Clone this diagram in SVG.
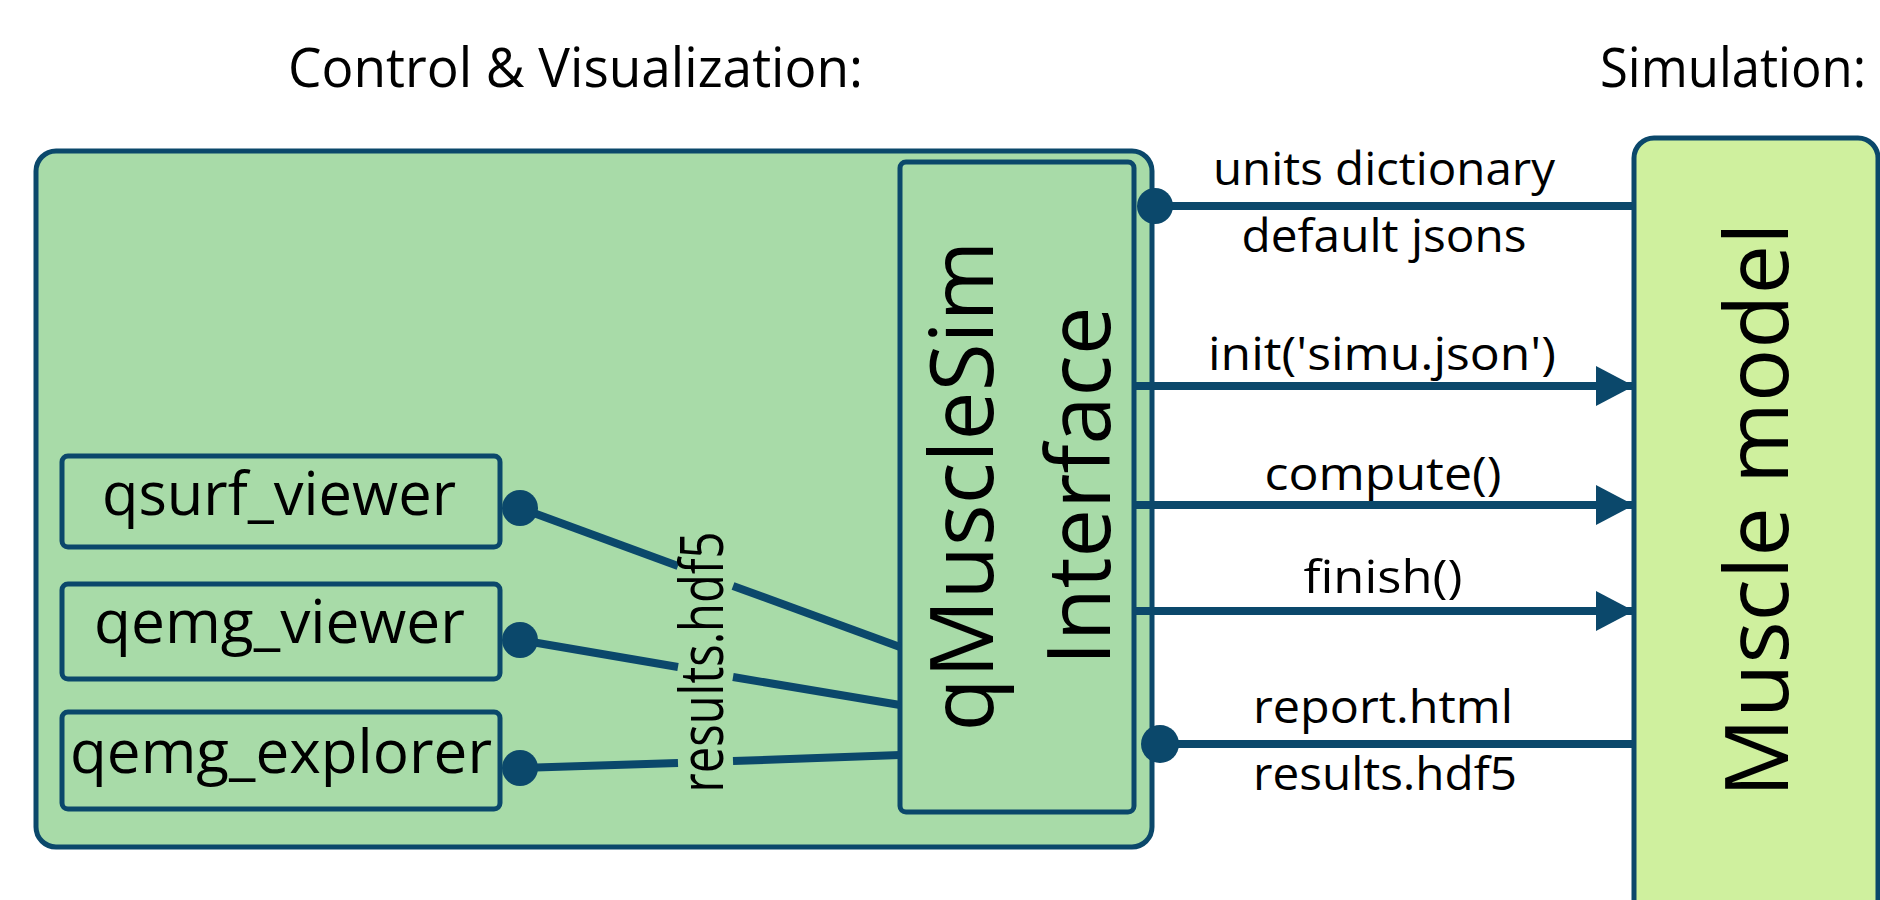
<svg xmlns="http://www.w3.org/2000/svg" width="1880" height="900" viewBox="0 0 1880 900">
  <style>
    .title { font-family: "Open Sans", "Noto Sans", "Liberation Sans", sans-serif; font-size: 54px; fill: #000; }
    .lbl { font-family: "Open Sans", "Noto Sans", "Liberation Sans", sans-serif; font-size: 46px; fill: #000; text-anchor: middle; }
    .app { font-family: "Open Sans", "Noto Sans", "Liberation Sans", sans-serif; font-size: 60px; fill: #000; }
    .big { font-family: "Open Sans", "Noto Sans", "Liberation Sans", sans-serif; font-size: 88px; fill: #000; text-anchor: middle; }
    .box { stroke: #0b486b; stroke-width: 5; }
    .wire { stroke: #0b486b; stroke-width: 8; fill: none; }
    .dot { fill: #0b486b; }
  </style>
  <defs>
    <marker id="arrow" markerUnits="userSpaceOnUse" viewBox="0 0 38 40" refX="38" refY="20" markerWidth="38" markerHeight="40" orient="auto">
      <path d="M0,0 L38,20 L0,40 Z" fill="#0b486b"/>
    </marker>
  </defs>

  <rect width="1880" height="900" fill="#ffffff"/>

  <!-- section headings -->
  <text class="title" x="288" y="87" textLength="575" lengthAdjust="spacingAndGlyphs">Control &amp; Visualization:</text>
  <text class="title" x="1600" y="87" textLength="266" lengthAdjust="spacingAndGlyphs">Simulation:</text>

  <!-- control & visualization container -->
  <g id="control-container">
    <rect class="box" x="36" y="151" width="1116" height="696" rx="20" fill="#a8dba8"/>
  </g>

  <!-- simulation side -->
  <g id="muscle-model">
    <rect class="box" x="1634" y="138" width="244" height="800" rx="20" fill="#cff09e"/>
    <text class="big" transform="translate(1788,510) rotate(-90)" textLength="575" lengthAdjust="spacingAndGlyphs">Muscle model</text>
  </g>

  <g id="qmusclesim-interface">
    <rect class="box" x="900" y="162" width="234" height="650" rx="6" fill="#a8dba8"/>
    <text class="big" transform="translate(993,486) rotate(-90)" textLength="491" lengthAdjust="spacingAndGlyphs">qMuscleSim</text>
    <text class="big" transform="translate(1110,486) rotate(-90)" textLength="359" lengthAdjust="spacingAndGlyphs">Interface</text>
  </g>

  <g id="qsurf-viewer">
    <rect class="box" x="62" y="456" width="438" height="91" rx="6" fill="#a8dba8"/>
    <text class="app" x="102" y="515" textLength="354" lengthAdjust="spacingAndGlyphs">qsurf_viewer</text>
  </g>
  <g id="qemg-viewer">
    <rect class="box" x="62" y="584" width="438" height="95" rx="6" fill="#a8dba8"/>
    <text class="app" x="94" y="643" textLength="371" lengthAdjust="spacingAndGlyphs">qemg_viewer</text>
  </g>
  <g id="qemg-explorer">
    <rect class="box" x="62" y="712" width="438" height="97" rx="6" fill="#a8dba8"/>
    <text class="app" x="70" y="773" textLength="422" lengthAdjust="spacingAndGlyphs">qemg_explorer</text>
  </g>

  <!-- connectors -->
  <g id="connectors">
    <!-- viewers reading results.hdf5 from the interface -->
    <line class="wire" x1="520" y1="508" x2="678" y2="566"/>
    <line class="wire" x1="733" y1="586" x2="900" y2="647"/>
    <line class="wire" x1="520" y1="640" x2="678" y2="667"/>
    <line class="wire" x1="733" y1="677" x2="900" y2="705"/>
    <line class="wire" x1="520" y1="768" x2="678" y2="763"/>
    <line class="wire" x1="733" y1="761" x2="900" y2="755"/>
    <circle class="dot" cx="520" cy="508" r="18"/>
    <circle class="dot" cx="520" cy="640" r="18"/>
    <circle class="dot" cx="520" cy="768" r="18"/>
    <text class="app" transform="translate(723,662) rotate(-90)" text-anchor="middle" textLength="261" lengthAdjust="spacingAndGlyphs">results.hdf5</text>

    <!-- interface to muscle model -->
    <line class="wire" x1="1155" y1="206" x2="1634" y2="206"/>
    <circle class="dot" cx="1155" cy="206" r="18"/>
    <text class="lbl" x="1384" y="185" textLength="342" lengthAdjust="spacingAndGlyphs">units dictionary</text>
    <text class="lbl" x="1384" y="252" textLength="285" lengthAdjust="spacingAndGlyphs">default jsons</text>

    <line class="wire" x1="1134" y1="386" x2="1634" y2="386" marker-end="url(#arrow)"/>
    <text class="lbl" x="1382" y="370" textLength="348" lengthAdjust="spacingAndGlyphs">init('simu.json')</text>

    <line class="wire" x1="1134" y1="505" x2="1634" y2="505" marker-end="url(#arrow)"/>
    <text class="lbl" x="1383" y="490" textLength="237" lengthAdjust="spacingAndGlyphs">compute()</text>

    <line class="wire" x1="1134" y1="611" x2="1634" y2="611" marker-end="url(#arrow)"/>
    <text class="lbl" x="1383" y="593" textLength="159" lengthAdjust="spacingAndGlyphs">finish()</text>

    <line class="wire" x1="1160" y1="744" x2="1634" y2="744"/>
    <circle class="dot" cx="1160" cy="744" r="19"/>
    <text class="lbl" x="1383" y="723" textLength="260" lengthAdjust="spacingAndGlyphs">report.html</text>
    <text class="lbl" x="1385" y="790" textLength="264" lengthAdjust="spacingAndGlyphs">results.hdf5</text>
  </g>
</svg>
